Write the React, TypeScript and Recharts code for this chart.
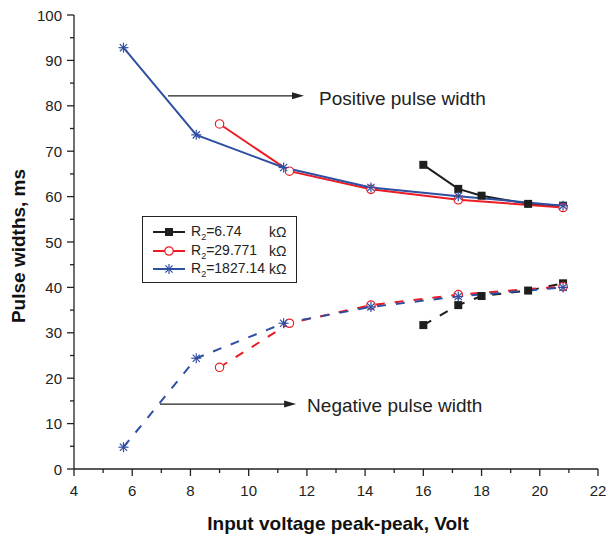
import React from 'react';
import { LineChart, Line, XAxis, YAxis, Legend, ReferenceLine, Label } from 'recharts';

// input voltage (V p-p) for each resistor
const blackX = [16.0, 17.2, 18.0, 19.6, 20.8];
const redX = [9.0, 11.4, 14.2, 17.2, 20.8];
const blueX = [5.7, 8.2, 11.2, 14.2, 17.2, 20.8];

// positive pulse width, ms
const blackPos = [67.0, 61.7, 60.2, 58.4, 58.0];
const redPos = [76.0, 65.6, 61.6, 59.3, 57.6];
const bluePos = [92.8, 73.6, 66.4, 62.0, 60.1, 58.0];

// negative pulse width, ms
const blackNeg = [31.7, 36.1, 38.1, 39.3, 40.9];
const redNeg = [22.4, 32.1, 36.1, 38.4, 40.2];
const blueNeg = [4.8, 24.4, 32.1, 35.7, 38.0, 40.0];

const xTicks = [4, 5, 6, 7, 8, 9, 10, 11, 12, 13, 14, 15, 16, 17, 18, 19, 20, 21, 22];
const yTicks = [0, 5, 10, 15, 20, 25, 30, 35, 40, 45, 50, 55, 60, 65, 70, 75, 80, 85, 90, 95, 100];
const legendValues = ['6.74', '29.771', '1827.14'];

const BLACK = '#1e1e1e';
const RED = '#ed1c24';
const BLUE = '#2f4fa2';
const FONT = '"Liberation Sans", Arial, sans-serif';

const pts = (xs: number[], ys: number[]) => xs.map((x, i) => ({ x, y: ys[i] }));

const Square = ({ cx, cy }: any) => (
  <rect x={cx - 4} y={cy - 4} width={8} height={8} fill={BLACK} />
);
const Circle = ({ cx, cy }: any) => (
  <circle cx={cx} cy={cy} r={4.2} fill="#fff" stroke={RED} strokeWidth={1.2} />
);
const Star = ({ cx, cy }: any) => (
  <g stroke={BLUE} strokeWidth={1.2}>
    <line x1={cx - 5} y1={cy} x2={cx + 5} y2={cy} />
    <line x1={cx} y1={cy - 5} x2={cx} y2={cy + 5} />
    <line x1={cx - 3.6} y1={cy - 3.6} x2={cx + 3.6} y2={cy + 3.6} />
    <line x1={cx - 3.6} y1={cy + 3.6} x2={cx + 3.6} y2={cy - 3.6} />
  </g>
);

const markers = [Square, Circle, Star];
const colors = [BLACK, RED, BLUE];

const XTick = ({ x, y, payload }: any) => {
  const major = payload.value % 2 === 0;
  return (
    <g>
      <line x1={x} y1={y} x2={x} y2={y + (major ? 7 : 4)} stroke="#222" strokeWidth={1.3} />
      {major && (
        <text x={x} y={y + 27} textAnchor="middle" fontSize={15} fill="#222" fontFamily={FONT}>
          {payload.value}
        </text>
      )}
    </g>
  );
};

const YTick = ({ x, y, payload }: any) => {
  const major = payload.value % 10 === 0;
  return (
    <g>
      <line x1={x} y1={y} x2={x - (major ? 7 : 4)} y2={y} stroke="#222" strokeWidth={1.3} />
      {major && (
        <text x={x - 12} y={y + 5.5} textAnchor="end" fontSize={15} fill="#222" fontFamily={FONT}>
          {payload.value}
        </text>
      )}
    </g>
  );
};

const arrow = (text: string, gap: number, dy: number) => (p: any) => (
  <g>
    <line x1={p.x1} y1={p.y1} x2={p.x2 - 8} y2={p.y2} stroke="#222" strokeWidth={1.2} />
    <polygon points={`${p.x2},${p.y2} ${p.x2 - 12},${p.y2 - 3.5} ${p.x2 - 12},${p.y2 + 3.5}`} fill="#222" />
    <text x={p.x2 + gap} y={p.y2 + dy} fontSize={19} fill="#222" fontFamily={FONT}>
      {text}
    </text>
  </g>
);

const LegendBox = () => (
  <div
    style={{
      width: 155,
      height: 67,
      boxSizing: 'border-box',
      border: '1.3px solid #222',
      background: '#fff',
      paddingTop: 6,
      fontFamily: FONT,
      fontSize: 14,
      color: '#222',
    }}
  >
    {legendValues.map((v, i) => {
      const M = markers[i];
      return (
        <div key={v} style={{ display: 'flex', alignItems: 'center', height: 18.6, lineHeight: '18px' }}>
          <svg width={32} height={18} style={{ marginLeft: 10, marginRight: 6 }}>
            <line x1={0} y1={9} x2={32} y2={9} stroke={colors[i]} strokeWidth={2} />
            <M cx={16} cy={9} />
          </svg>
          <span style={{ display: 'inline-block', width: 78, whiteSpace: 'nowrap' }}>
            R<span style={{ fontSize: 9, position: 'relative', top: 4 }}>2</span>={v}
          </span>
          <span>kΩ</span>
        </div>
      );
    })}
  </div>
);

const series = [
  { x: blackX, pos: blackPos, neg: blackNeg },
  { x: redX, pos: redPos, neg: redNeg },
  { x: blueX, pos: bluePos, neg: blueNeg },
];

export default function App() {
  return (
    <div style={{ position: 'absolute', left: 0, top: 0, background: '#fff' }}>
      <LineChart width={606} height={538} margin={{ top: 15, right: 8, left: 0, bottom: 0 }}>
        <XAxis
          dataKey="x"
          type="number"
          domain={[4, 22]}
          ticks={xTicks}
          interval={0}
          allowDataOverflow
          height={69}
          tickSize={0}
          tickMargin={0}
          tickLine={false}
          tick={<XTick />}
          axisLine={{ stroke: '#222', strokeWidth: 1.3 }}
        >
          <Label
            content={({ viewBox }: any) => (
              <text
                x={viewBox.x + viewBox.width / 2 + 2}
                y={viewBox.y + viewBox.height - 8}
                textAnchor="middle"
                fontSize={19}
                fontWeight="bold"
                fill="#111"
                fontFamily={FONT}
              >
                Input voltage peak-peak, Volt
              </text>
            )}
          />
        </XAxis>
        <XAxis
          xAxisId="top"
          orientation="top"
          type="number"
          domain={[4, 22]}
          height={0}
          tick={false}
          tickLine={false}
          axisLine={{ stroke: '#888', strokeWidth: 1.3 }}
        />
        <YAxis
          type="number"
          domain={[0, 100]}
          ticks={yTicks}
          interval={0}
          width={74}
          tickSize={0}
          tickMargin={0}
          tickLine={false}
          tick={<YTick />}
          axisLine={{ stroke: '#222', strokeWidth: 1.3 }}
        >
          <Label
            content={({ viewBox }: any) => {
              const cx = 18;
              const cy = viewBox.y + viewBox.height / 2 + 4;
              return (
                <text
                  x={cx}
                  y={cy}
                  transform={`rotate(-90 ${cx} ${cy})`}
                  textAnchor="middle"
                  dominantBaseline="central"
                  fontSize={19}
                  fontWeight="bold"
                  fill="#111"
                  fontFamily={FONT}
                >
                  Pulse widths, ms
                </text>
              );
            }}
          />
        </YAxis>
        <YAxis
          yAxisId="right"
          orientation="right"
          type="number"
          domain={[0, 100]}
          width={0}
          tick={false}
          tickLine={false}
          axisLine={{ stroke: '#888', strokeWidth: 1.3 }}
        />
        {series.map((s, i) => {
          const M = markers[i];
          return [
            <Line
              key={`pos-${i}`}
              data={pts(s.x, s.pos)}
              dataKey="y"
              type="linear"
              stroke={colors[i]}
              strokeWidth={2}
              dot={(p: any) => <M key={`pd-${i}-${p.index}`} cx={p.cx} cy={p.cy} />}
              activeDot={false}
              isAnimationActive={false}
            />,
            <Line
              key={`neg-${i}`}
              data={pts(s.x, s.neg)}
              dataKey="y"
              type="linear"
              stroke={colors[i]}
              strokeWidth={2}
              strokeDasharray="9 10"
              dot={(p: any) => <M key={`nd-${i}-${p.index}`} cx={p.cx} cy={p.cy} />}
              activeDot={false}
              legendType="none"
              isAnimationActive={false}
            />,
          ];
        })}
        <ReferenceLine
          segment={[{ x: 7.23, y: 82.2 }, { x: 11.9, y: 82.2 }]}
          shape={arrow('Positive pulse width', 15, 9)}
        />
        <ReferenceLine
          segment={[{ x: 6.95, y: 14.3 }, { x: 11.63, y: 14.3 }]}
          shape={arrow('Negative pulse width', 11, 8)}
        />
        <Legend
          layout="horizontal"
          verticalAlign="middle"
          align="center"
          content={<LegendBox />}
          wrapperStyle={{ left: 142, top: 216, width: 155, height: 67 }}
        />
      </LineChart>
    </div>
  );
}
